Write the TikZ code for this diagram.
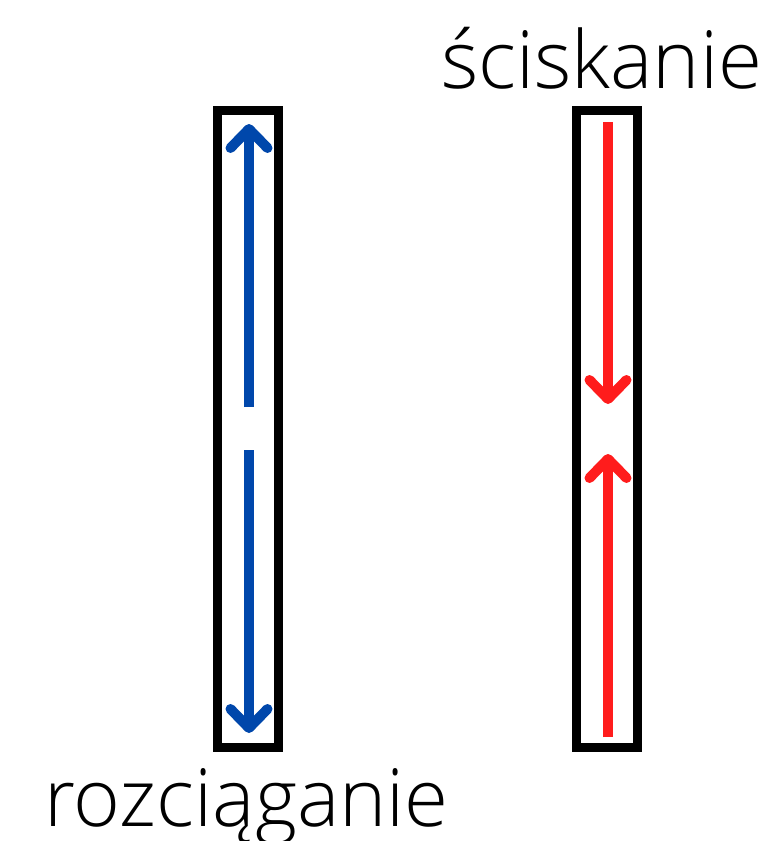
\documentclass[tikz,border=0pt]{standalone}
\usepackage{fontspec}
\IfFontExistsTF{OpenSans-Light.ttf}{\setmainfont{OpenSans-Light.ttf}}{%
  \IfFontExistsTF{Open Sans Light}{\setmainfont{Open Sans Light}}{\setmainfont{Open Sans}}}
\usetikzlibrary{arrows.meta}
\definecolor{tensionblue}{RGB}{0,71,171}
\definecolor{compressred}{RGB}{255,28,28}
\tikzset{
  bar/.style={draw=black, line width=9pt, fill=white},
  force/.style={line width=10pt, line cap=butt,
    -{Straight Barb[length=19pt,width=37pt,line cap=round,line join=round]}},
  label/.style={inner sep=0pt, anchor=base west, font=\fontsize{80}{84}\selectfont},
}
\begin{document}
\begin{tikzpicture}[x=1pt,y=-1pt]
  \useasboundingbox (0,0) rectangle (770,841);
  % the two bars
  \draw[bar] (217.5,110.5) rectangle (278.5,747.5);
  \draw[bar] (576.5,110.5) rectangle (637.5,747.5);
  % end points of the forces
  \coordinate (t1) at (249,124);
  \coordinate (t2) at (249,407);
  \coordinate (t3) at (249,450);
  \coordinate (t4) at (249,733);
  \coordinate (c1) at (608,122);
  \coordinate (c2) at (608,404);
  \coordinate (c3) at (608,454);
  \coordinate (c4) at (608,737);
  % tension: forces pulling outwards
  \draw[force, tensionblue] (t2) -- (t1);
  \draw[force, tensionblue] (t3) -- (t4);
  % compression: forces pushing inwards
  \draw[force, compressred] (c1) -- (c2);
  \draw[force, compressred] (c4) -- (c3);
  % captions
  \node[label] (sc) at (441,88) {ściskanie};
  \node[label] (rz) at (44,826) {rozciąganie};
\end{tikzpicture}
\end{document}
